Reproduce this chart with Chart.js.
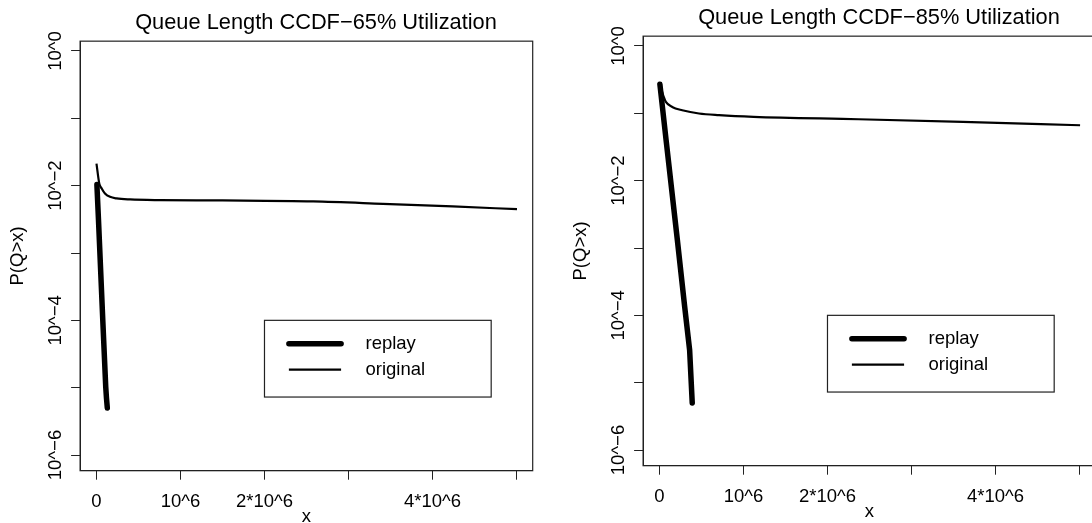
<!DOCTYPE html>
<html>
<head>
<meta charset="utf-8">
<title>Queue Length CCDF</title>
<script src="https://cdn.jsdelivr.net/npm/chart.js@4.4.1/dist/chart.umd.min.js"></script>
<style>
  html, body { margin: 0; padding: 0; background: #fff; }
  #wrap { position: relative; width: 1092px; height: 523px; overflow: hidden; background: #fff; }
  .panel { position: absolute; }
  #panel65 { left: 0; top: 0; }
  #panel85 { left: 563px; top: -5px; }
</style>
</head>
<body>
<div id="wrap">
  <canvas id="panel65" class="panel" width="632" height="540"></canvas>
  <canvas id="panel85" class="panel" width="632" height="540"></canvas>
</div>
<script>
// tick marks and labels (R-style, some ticks have no label)
const xTickValues = [0, 1e6, 2e6, 3e6, 4e6, 5e6];
const xTickLabels = ['0', '10^6', '2*10^6', '', '4*10^6', ''];
const yTickValues = [1, 1e-1, 1e-2, 1e-3, 1e-4, 1e-5, 1e-6];
const yTickLabels = ['10^0', '', '10^\u22122', '', '10^\u22124', '', '10^\u22126'];

// 65% utilization
const replay65X = [5000, 24000, 75000, 110000, 119000, 129000];
const replay65Y = [0.0104, 0.00308, 1.01e-4, 1.035e-5, 7.0e-6, 5.0e-6];
const original65X = [0, 33000, 62000, 101000, 161000, 240000, 400000, 756000, 1500000, 2580000, 3410000, 4240000, 5006000];
const original65Y = [0.0213, 0.0108, 0.00908, 0.00766, 0.00682, 0.00646, 0.00624, 0.0061, 0.00603, 0.00583, 0.00537, 0.00491, 0.00448];

// 85% utilization
const replay85X = [5000, 79000, 213000, 300000, 359000, 390000];
const replay85Y = [0.27, 0.0399, 0.00131, 1.343e-4, 3.05e-5, 5.0e-6];
const original85X = [5000, 52000, 76000, 151000, 271000, 470000, 708000, 1120000, 2370000, 3610000, 5007000];
const original85Y = [0.27, 0.1734, 0.1476, 0.1245, 0.1112, 0.0993, 0.0938, 0.0885, 0.0817, 0.0745, 0.0665];

const FONT = '"Liberation Sans", Arial, Helvetica, sans-serif';
const INK = '#000';

// pair up x and y arrays into points
function toPoints(xs, ys) {
    return xs.map((x, i) => ({ x: x, y: ys[i] }));
}

// full box around the plot region
const plotBox = {
    id: 'plotBox',
    afterDraw(chart) {
        const a = chart.chartArea;
        const ctx = chart.ctx;
        ctx.save();
        ctx.strokeStyle = '#222';
        ctx.lineWidth = 1.2;
        ctx.strokeRect(a.left, a.top, a.right - a.left, a.bottom - a.top);
        ctx.restore();
    }
};

// legend placed at a data position inside the plot, like legend(x, y, ...) in R
const boxLegend = {
    id: 'boxLegend',
    afterDatasetsDraw(chart, args, opts) {
        const ctx = chart.ctx;
        const x0 = chart.scales.x.getPixelForValue(opts.atX);
        const y0 = chart.scales.y.getPixelForValue(opts.atY);
        ctx.save();
        ctx.fillStyle = '#fff';
        ctx.fillRect(x0, y0, opts.width, opts.height);
        ctx.strokeStyle = '#222';
        ctx.lineWidth = 1.2;
        ctx.strokeRect(x0, y0, opts.width, opts.height);
        ctx.font = opts.fontSize + 'px ' + FONT;
        ctx.textBaseline = 'middle';
        ctx.textAlign = 'left';
        chart.data.datasets.forEach((ds, i) => {
            const y = y0 + opts.firstRow + i * opts.rowGap;
            ctx.beginPath();
            ctx.strokeStyle = ds.borderColor;
            ctx.lineWidth = ds.borderWidth;
            ctx.lineCap = ds.borderCapStyle || 'butt';
            ctx.moveTo(x0 + opts.lineStart, y);
            ctx.lineTo(x0 + opts.lineEnd, y);
            ctx.stroke();
            ctx.fillStyle = INK;
            ctx.fillText(ds.label, x0 + opts.textStart, y);
        });
        ctx.restore();
    }
};

function makePanel(canvasId, titleText, replayX, replayY, originalX, originalY) {
    const tickFont = { family: FONT, size: 18.5, lineHeight: 1.2 };
    return new Chart(document.getElementById(canvasId), {
        type: 'line',
        data: {
            datasets: [{
                label: 'replay',
                data: toPoints(replayX, replayY),
                borderColor: INK,
                borderWidth: 5.5,
                borderCapStyle: 'round',
                borderJoinStyle: 'round',
                pointRadius: 0,
                fill: false,
                tension: 0
            }, {
                label: 'original',
                data: toPoints(originalX, originalY),
                borderColor: INK,
                borderWidth: 2.2,
                borderCapStyle: 'butt',
                borderJoinStyle: 'round',
                pointRadius: 0,
                fill: false,
                cubicInterpolationMode: 'monotone'
            }]
        },
        options: {
            responsive: false,
            animation: false,
            layout: { padding: { left: 0, right: 0, top: 0, bottom: 0 } },
            plugins: {
                legend: { display: false },
                tooltip: { enabled: false },
                title: {
                    display: true,
                    text: titleText,
                    fullSize: true,
                    color: INK,
                    font: { family: FONT, size: 21.8, weight: 'normal', lineHeight: 1.2 },
                    padding: { top: 10.2, bottom: 4.8 }
                },
                boxLegend: {
                    atX: 2e6, atY: 1e-4,
                    width: 226.7, height: 76.7,
                    lineStart: 24.4, lineEnd: 76.6, textStart: 101,
                    firstRow: 23.3, rowGap: 26, fontSize: 18.5
                }
            },
            scales: {
                x: {
                    type: 'linear',
                    min: -0.195e6,
                    max: 5.193e6,
                    afterBuildTicks: s => { s.ticks = xTickValues.map(v => ({ value: v })); },
                    afterFit: s => { s.height = 69.3; },
                    ticks: {
                        autoSkip: false,
                        minRotation: 0,
                        maxRotation: 0,
                        padding: 11,
                        color: INK,
                        font: tickFont,
                        callback: v => xTickLabels[xTickValues.indexOf(v)]
                    },
                    grid: { drawOnChartArea: false, drawTicks: true, tickLength: 9, color: '#222', lineWidth: 1 },
                    border: { display: true, color: '#222', width: 1 },
                    title: {
                        display: true, text: 'x', color: INK,
                        font: { family: FONT, size: 18.5, lineHeight: 1.2 },
                        padding: { top: 0, bottom: 12.4 }
                    }
                },
                y: {
                    type: 'logarithmic',
                    min: Math.pow(10, -6.233),
                    max: Math.pow(10, 0.146),
                    afterBuildTicks: s => { s.ticks = yTickValues.map(v => ({ value: v })); },
                    afterFit: s => { s.width = 80.1; },
                    ticks: {
                        autoSkip: false,
                        minRotation: 90,
                        maxRotation: 90,
                        crossAlign: 'center',
                        padding: -9.6,
                        color: INK,
                        font: tickFont,
                        callback: v => yTickLabels[yTickValues.indexOf(v)]
                    },
                    grid: { drawOnChartArea: false, drawTicks: true, tickLength: 9, color: '#222', lineWidth: 1 },
                    border: { display: true, color: '#222', width: 1 },
                    title: {
                        display: true, text: 'P(Q>x)', color: INK,
                        font: { family: FONT, size: 18.5, lineHeight: 1.2 },
                        padding: { top: 6.6, bottom: 0 }
                    }
                },
                // empty right margin so the title centres where R put it
                margin: {
                    type: 'linear',
                    position: 'right',
                    display: true,
                    grid: { display: false },
                    border: { display: false },
                    ticks: { display: false },
                    afterFit: s => { s.width = 99.3; }
                }
            }
        },
        plugins: [plotBox, boxLegend]
    });
}

document.addEventListener('DOMContentLoaded', function() {
    makePanel('panel65', 'Queue Length CCDF\u221265% Utilization', replay65X, replay65Y, original65X, original65Y);
    makePanel('panel85', 'Queue Length CCDF\u221285% Utilization', replay85X, replay85Y, original85X, original85Y);
});
</script>
</body>
</html>
